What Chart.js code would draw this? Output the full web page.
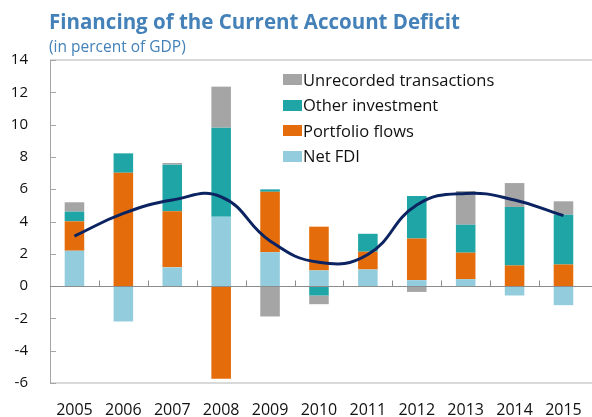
<!DOCTYPE html>
<html>
<head>
<meta charset="utf-8">
<script src="https://cdn.jsdelivr.net/npm/chart.js@4/dist/chart.umd.min.js"></script>
<style>
  html, body { margin: 0; padding: 0; background: #fff; overflow: hidden; }
  #wrap { position: relative; width: 600px; height: 417px; }
  #c { position: absolute; left: 0; top: 0; }
  .title { position: absolute; left: 49px; top: 11px; line-height: 1; font-family: "Open Sans", sans-serif; font-weight: bold; font-size: 20.5px; color: #4381B8; white-space: nowrap; }
  .sub { position: absolute; left: 49px; top: 39px; line-height: 1; font-family: "Open Sans", sans-serif; font-size: 15.5px; color: #4381B8; white-space: nowrap; }
  .legend { position: absolute; left: 283px; top: 67px; font-family: "Open Sans", sans-serif; font-size: 16.5px; color: #111; }
  .legend div { height: 25.5px; line-height: 22px; white-space: nowrap; display: flex; align-items: center; }
  .legend span.box { display: inline-block; width: 19px; height: 11px; margin-right: 1px; }
</style>
</head>
<body>
<div id="wrap">
  <canvas id="c" width="600" height="417"></canvas>
  <div class="title">Financing of the Current Account Deficit</div>
  <div class="sub">(in percent of GDP)</div>
  <div class="legend" id="legend"></div>
</div>
<script>
const years = ['2005','2006','2007','2008','2009','2010','2011','2012','2013','2014','2015'];
const netFDI     = [2.19, -2.19, 1.16, 4.29, 2.10, 0.97, 1.03, 0.37, 0.43, -0.58, -1.18];
const portfolio  = [1.82, 7.02, 3.48, -5.74, 3.74, 2.71, 1.10, 2.58, 1.64, 1.28, 1.34];
const otherInv   = [0.60, 1.20, 2.88, 5.52, 0.15, -0.58, 1.11, 2.63, 1.73, 3.62, 3.08];
const unrecorded = [0.58, 0.00, 0.10, 2.54, -1.88, -0.54, 0.00, -0.36, 2.09, 1.48, 0.83];
const caDeficit  = [3.10, 4.50, 5.33, 5.53, 2.80, 1.47, 1.96, 5.02, 5.74, 5.33, 4.36];
const yTicks = [-6, -4, -2, 0, 2, 4, 6, 8, 10, 12, 14];

const colors = {
  unrecorded: '#A5A5A5',
  other: '#1FA5A6',
  portfolio: '#E46C0A',
  fdi: '#93CDDD',
  line: '#0B2461'
};

const legendItems = [
  ['Unrecorded transactions', colors.unrecorded],
  ['Other investment', colors.other],
  ['Portfolio flows', colors.portfolio],
  ['Net FDI', colors.fdi]
];
const lg = document.getElementById('legend');
legendItems.forEach(([t, c]) => {
  const d = document.createElement('div');
  d.innerHTML = '<span class="box" style="background:' + c + '"></span>' + t;
  lg.appendChild(d);
});

const decor = {
  id: 'decor',
  beforeDatasetsDraw(chart) {
    const {ctx, chartArea: a, scales: {x, y}} = chart;
    ctx.save();
    ctx.strokeStyle = '#D9D9D9';
    ctx.lineWidth = 2;
    ctx.beginPath();
    ctx.moveTo(a.left, a.top); ctx.lineTo(a.right + 10, a.top);
    ctx.moveTo(a.left, a.bottom); ctx.lineTo(a.right + 10, a.bottom);
    ctx.stroke();
    ctx.strokeStyle = '#A6A6A6';
    ctx.lineWidth = 1;
    ctx.beginPath();
    ctx.moveTo(a.left + 0.5, a.top); ctx.lineTo(a.left + 0.5, a.bottom);
    ctx.stroke();
    ctx.beginPath();
    yTicks.forEach(v => {
      const py = Math.round(y.getPixelForValue(v)) + 0.5;
      ctx.moveTo(a.left, py); ctx.lineTo(a.left + 6, py);
    });
    ctx.stroke();
    ctx.restore();
  },
  afterDatasetsDraw(chart) {
    const {ctx, chartArea: a, scales: {x, y}} = chart;
    ctx.save();
    const y0 = Math.round(y.getPixelForValue(0)) + 0.5;
    ctx.strokeStyle = '#8C8C8C';
    ctx.lineWidth = 1;
    ctx.beginPath();
    ctx.moveTo(a.left, y0); ctx.lineTo(a.right + 10, y0);
    for (let i = 0; i < years.length - 1; i++) {
      const bx = Math.round((x.getPixelForValue(i) + x.getPixelForValue(i + 1)) / 2) + 0.5;
      ctx.moveTo(bx, y0); ctx.lineTo(bx, y0 - 6);
    }
    ctx.stroke();
    ctx.restore();
  }
};

const font = { family: '"Open Sans", sans-serif' };

new Chart(document.getElementById('c'), {
  data: {
    labels: years,
    datasets: [
      { type: 'line', label: 'Current account deficit', data: caDeficit, borderColor: colors.line, borderWidth: 3, pointRadius: 0, tension: 0.45, fill: false, stack: 'line', order: 0 },
      { type: 'bar', label: 'Net FDI', data: netFDI, backgroundColor: colors.fdi, stack: 'bars', order: 1 },
      { type: 'bar', label: 'Portfolio flows', data: portfolio, backgroundColor: colors.portfolio, stack: 'bars', order: 1 },
      { type: 'bar', label: 'Other investment', data: otherInv, backgroundColor: colors.other, stack: 'bars', order: 1 },
      { type: 'bar', label: 'Unrecorded transactions', data: unrecorded, backgroundColor: colors.unrecorded, stack: 'bars', order: 1 }
    ]
  },
  options: {
    responsive: false,
    animation: false,
    devicePixelRatio: 1,
    layout: { padding: { top: 60, right: 5, left: 0, bottom: 0 } },
    datasets: { bar: { barPercentage: 0.4, categoryPercentage: 1 } },
    plugins: { legend: { display: false }, title: { display: false }, tooltip: { enabled: false } },
    scales: {
      x: {
        stacked: true,
        grid: { display: false, drawTicks: false },
        border: { display: false },
        ticks: { padding: 18, color: '#111', font: { ...font, size: 16 }, maxRotation: 0 },
        afterFit(s) { s.height = 34; }
      },
      y: {
        stacked: true,
        min: -6, max: 14,
        grid: { display: false, drawTicks: false },
        border: { display: false },
        ticks: { stepSize: 2, padding: 22, color: '#111', font: { ...font, size: 15 } },
        afterFit(s) { s.width = 50; }
      }
    }
  },
  plugins: [decor]
});
</script>
</body>
</html>
